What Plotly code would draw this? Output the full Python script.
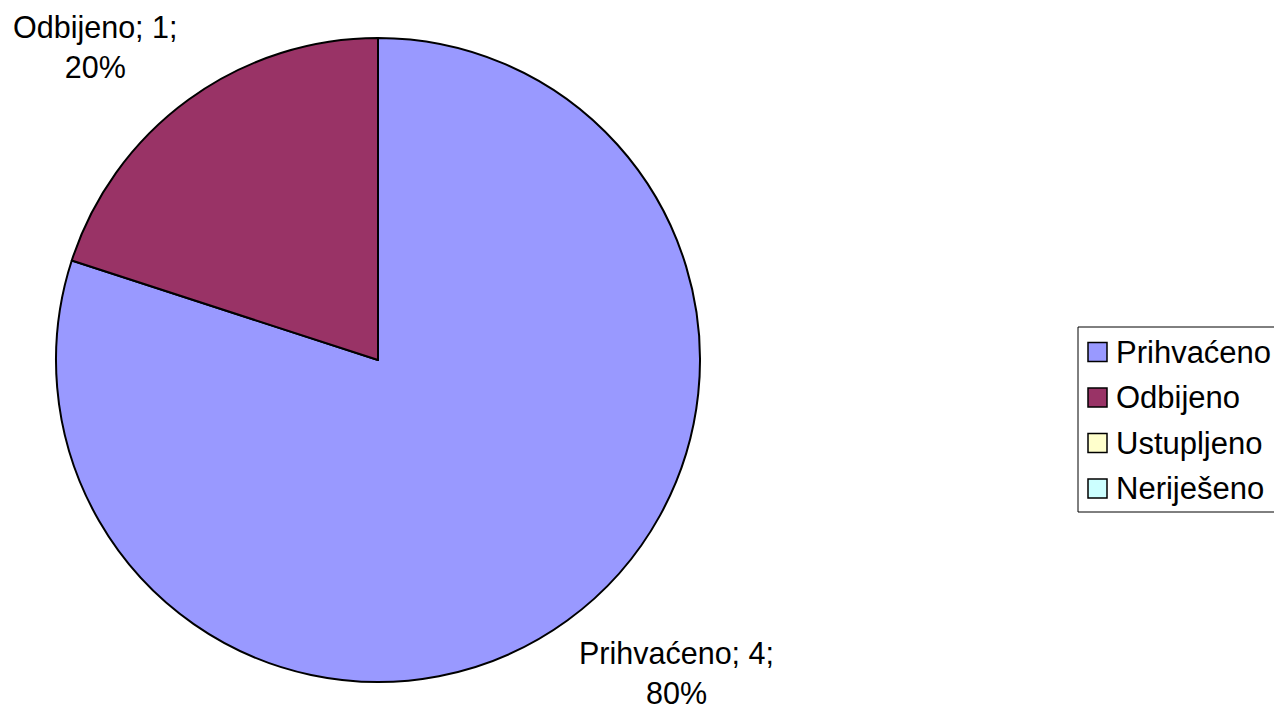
import math
import plotly.graph_objects as go

labels = ["Prihvaćeno", "Odbijeno", "Ustupljeno", "Neriješeno"]
values = [4, 1, 0, 0]
colors = ["#9999FF", "#993366", "#FFFFCC", "#CCFFFF"]

OFF = 8  # page body margin in the browser
W, H = 1282, 709
cx, cy, R = 378 - OFF, 360 - OFF, 322
FONT = dict(family="Liberation Sans, Arial, sans-serif", size=30.5, color="black")
LFONT = dict(family="Liberation Sans, Arial, sans-serif", size=31, color="black")

fig = go.Figure(go.Pie(
    labels=labels, values=values, sort=False, direction="clockwise", rotation=0,
    marker=dict(colors=colors, line=dict(color="black", width=2)),
    textinfo="none", hoverinfo="label+value+percent", showlegend=False,
    domain=dict(x=[(cx - R) / W, (cx + R) / W], y=[1 - (cy + R) / H, 1 - (cy - R) / H]),
))

# data labels, placed just outside the slice midpoints
total = sum(values)
cum = 0
annotations = []
for lab, v in zip(labels, values):
    if v <= 0:
        continue
    mid = (cum + v / 2) / total * 2 * math.pi
    cum += v
    rr = R * 1.055
    px = cx + rr * math.sin(mid)
    py = cy - rr * math.cos(mid)
    pct = round(v / total * 100)
    annotations.append(dict(
        x=px / W, y=1 - py / H, xref="paper", yref="paper",
        text=f"{lab}; {v};<br>{pct}%", showarrow=False, align="center",
        xanchor="left" if math.sin(mid) > 0 else "right",
        yanchor="top" if math.cos(mid) < 0 else "bottom",
        font=FONT, borderpad=0,
    ))

# legend (manual); its right side runs off the canvas
shapes = []
lx0, lx1, ly0, ly1 = 1078 - OFF, W + 5, 327 - OFF, 512 - OFF
for yy in (ly0, ly1):
    shapes.append(dict(type="line", xref="paper", yref="paper",
                       x0=lx0 / W, x1=lx1 / W, y0=1 - yy / H, y1=1 - yy / H,
                       line=dict(color="black", width=1)))
shapes.append(dict(type="line", xref="paper", yref="paper",
                   x0=lx0 / W, x1=lx0 / W, y0=1 - ly0 / H, y1=1 - ly1 / H,
                   line=dict(color="black", width=1)))
row0, rowgap, sq = 352 - OFF, 45.5, 19
for i, (lab, c) in enumerate(zip(labels, colors)):
    yc = row0 + i * rowgap
    shapes.append(dict(type="rect", xref="paper", yref="paper",
                       x0=(1088 - OFF) / W, x1=(1088 - OFF + sq) / W,
                       y0=1 - (yc + sq / 2) / H, y1=1 - (yc - sq / 2) / H,
                       line=dict(color="black", width=1.5), fillcolor=c))
    annotations.append(dict(x=(1114 - OFF) / W, y=1 - yc / H, xref="paper", yref="paper",
                            text=lab, showarrow=False, xanchor="left", yanchor="middle",
                            font=LFONT))

fig.update_layout(
    width=W, height=H, margin=dict(l=0, r=0, t=0, b=0),
    paper_bgcolor="white", plot_bgcolor="white",
    annotations=annotations, shapes=shapes,
)
fig.write_html("out.html")
